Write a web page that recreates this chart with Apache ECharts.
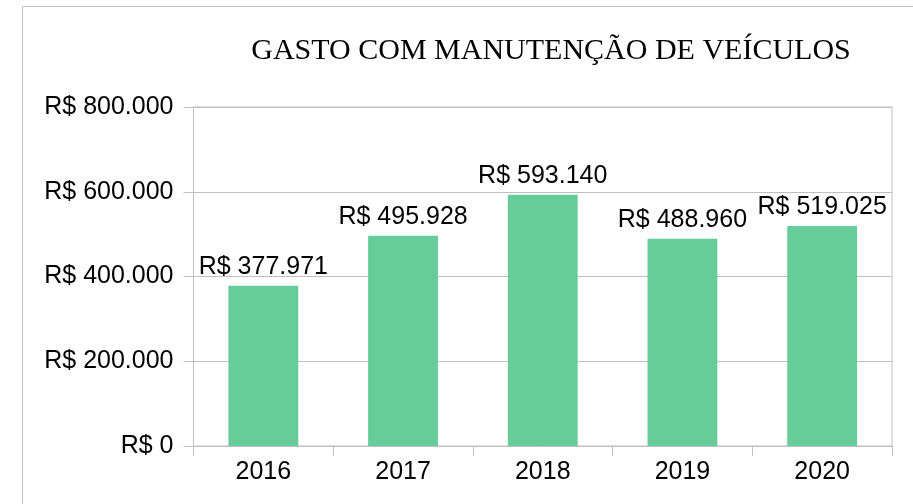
<!DOCTYPE html>
<html>
<head>
<meta charset="utf-8">
<script src="https://cdn.jsdelivr.net/npm/echarts@6/dist/echarts.min.js"></script>
<style>
  html, body { margin: 0; padding: 0; background: #fff; }
  #chart { width: 913px; height: 504px; }
</style>
</head>
<body>
<div id="chart"></div>
<script>
const years = ["2016", "2017", "2018", "2019", "2020"];
const gastos = [377971, 495928, 593140, 488960, 519025];
const yTicks = [0, 200000, 400000, 600000, 800000];

const fmtBRL = (v) => "R$ " + String(v).replace(/\B(?=(\d{3})+(?!\d))/g, ".");

const myChart = echarts.init(document.getElementById("chart"));

const option = {
  animation: false,
  textStyle: { fontFamily: "Liberation Sans" },
  title: {
    text: "GASTO COM MANUTENÇÃO DE VEÍCULOS",
    left: 546,
    top: 31,
    textAlign: "center",
    textStyle: {
      fontFamily: "Liberation Serif",
      fontWeight: "normal",
      fontSize: 30,
      color: "#000"
    }
  },
  graphic: [
    {
      type: "rect",
      shape: { x: 22.5, y: 6.5, width: 1000, height: 600 },
      style: { fill: null, stroke: "#c0c0c0", lineWidth: 1 },
      silent: true
    }
  ],
  grid: {
    left: 193.5,
    right: 21,
    top: 107,
    bottom: 58,
    show: true,
    borderColor: "#c0c0c0",
    borderWidth: 1
  },
  xAxis: {
    type: "category",
    data: years,
    axisLine: { lineStyle: { color: "#c0c0c0" } },
    axisTick: { show: true, length: 10, lineStyle: { color: "#c0c0c0" } },
    axisLabel: { color: "#000", fontSize: 25, margin: 14 }
  },
  yAxis: {
    type: "value",
    min: yTicks[0],
    max: yTicks[yTicks.length - 1],
    interval: yTicks[1] - yTicks[0],
    axisLine: { show: true, lineStyle: { color: "#c0c0c0" } },
    axisTick: { show: true, length: 10, lineStyle: { color: "#c0c0c0" } },
    axisLabel: { color: "#000", fontSize: 25, margin: 20, formatter: (v) => fmtBRL(v) },
    splitLine: { show: true, lineStyle: { color: "#c0c0c0" } }
  },
  series: [
    {
      type: "bar",
      data: gastos,
      barWidth: "50%",
      itemStyle: { color: "#66cc99" },
      label: {
        show: true,
        position: "top",
        distance: 6,
        color: "#000",
        fontSize: 25,
        formatter: (p) => fmtBRL(p.value)
      }
    }
  ]
};

myChart.setOption(option);
</script>
</body>
</html>
